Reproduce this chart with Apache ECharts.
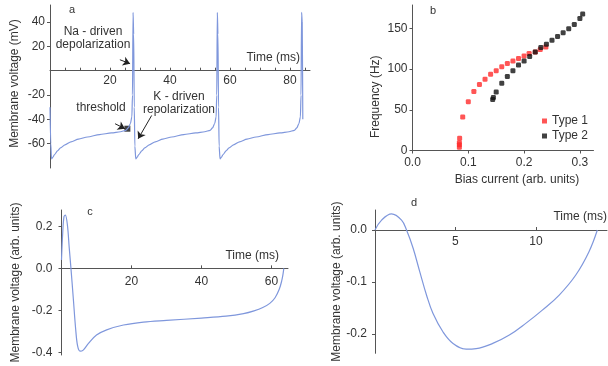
<!DOCTYPE html>
<html>
<head>
<meta charset="utf-8">
<script src="https://cdn.jsdelivr.net/npm/echarts@6/dist/echarts.min.js"></script>
<style>
  html, body { margin: 0; padding: 0; background: #fff; }
  #chart { width: 608px; height: 366px; }
</style>
</head>
<body>
<div id="chart"></div>
<script>
// panel a: spike train, time (ms) vs membrane voltage (mV)
const spikeTrain = [
  [0, -30], [0.25, -60],
  [0.5, -72.5], [1, -71], [1.5, -69], [2.5, -66], [3.5, -63.5], [5, -61], [7, -58.5], [9.5, -56.2],
  [12.5, -54.5], [16.5, -52.5], [20.5, -51.2], [23.5, -50.2], [25.3, -49], [26.1, -47], [26.8, -43.5],
  [27.3, -38], [27.5, -20], [27.7, 48], [27.9, 30], [28.1, -30], [28.3, -62],
  [28.6, -72.5], [29.1, -71], [29.6, -69], [30.6, -66], [31.6, -63.5], [33.1, -61], [35.1, -58.5], [37.6, -56.2],
  [40.6, -54.5], [44.6, -52.5], [48.6, -51.2], [51.6, -50.2], [53.4, -49], [54.2, -47], [54.9, -43.5],
  [55.4, -38], [55.6, -20], [55.8, 48], [56.0, 30], [56.2, -30], [56.4, -62],
  [56.7, -72.5], [57.2, -71], [57.7, -69], [58.7, -66], [59.7, -63.5], [61.2, -61], [63.2, -58.5], [65.7, -56.2],
  [68.7, -54.5], [72.7, -52.5], [76.7, -51.2], [79.7, -50.2], [81.5, -49], [82.3, -47], [83.0, -43.5],
  [83.5, -38], [83.7, -20], [83.9, 48], [84.1, 40], [84.3, -40]
];
const thresholdPoint = [[25.8, -47.7]];
const timeLabelsA = [20, 40, 60, 80];
const timeTicksA = [5, 10, 15, 20, 25, 30, 35, 40, 45, 50, 55, 60, 65, 70, 75, 80, 85];
const voltLabelsA = [-60, -40, -20, 20, 40];

// panel b: f-I curves
const type1 = [
  [0.084, 4], [0.084, 7], [0.084, 9.5], [0.0845, 15], [0.090, 41], [0.100, 60], [0.110, 72.5],
  [0.120, 81], [0.130, 87.6], [0.140, 93.8], [0.150, 98], [0.160, 103], [0.170, 107], [0.180, 110],
  [0.190, 113], [0.200, 116], [0.209, 119], [0.220, 121], [0.229, 124], [0.239, 127]
];
const type2 = [
  [0.1437, 62.6], [0.145, 65], [0.150, 72], [0.160, 82.7], [0.170, 91], [0.180, 98], [0.190, 105],
  [0.200, 110], [0.210, 115.5], [0.220, 121], [0.230, 126.5], [0.240, 130.6], [0.250, 135.5],
  [0.260, 140], [0.270, 144.6], [0.280, 149.5], [0.290, 154.8], [0.300, 162], [0.305, 167.5]
];
const currentLabelsB = [0, 0.1, 0.2, 0.3];
const freqLabelsB = [0, 50, 100, 150];

// panel c: single action potential (arb. units)
const waveC = [
  [0, 0.04], [0.35, 0.17], [0.7, 0.245], [1.1, 0.254], [1.7, 0.205], [2.2, 0.10], [2.7, 0],
  [3.4, -0.15], [4.05, -0.29], [4.6, -0.37], [5.3, -0.395], [6.2, -0.39], [7.7, -0.358], [10, -0.318],
  [12.9, -0.293], [17.7, -0.27], [23.4, -0.256], [30, -0.248], [40, -0.237], [47, -0.228], [52, -0.216],
  [55, -0.203], [57.5, -0.187], [59.5, -0.167], [61, -0.14], [62.2, -0.1], [62.9, -0.06], [63.3, -0.025], [63.5, 0]
];
const timeLabelsC = [20, 40, 60];
const voltLabelsC = [-0.4, -0.2, 0, 0.2];

// panel d: subthreshold response (arb. units)
const waveD = [
  [0, 0], [0.41, 0.019], [1.03, 0.031], [1.65, 0.019], [1.96, 0], [2.37, -0.035], [2.78, -0.08],
  [3.2, -0.125], [3.6, -0.16], [4.23, -0.196], [4.85, -0.218], [5.67, -0.229], [6.29, -0.228],
  [7.32, -0.218], [8.35, -0.202], [9.39, -0.179], [10.4, -0.154], [11.45, -0.125], [12.48, -0.0865],
  [13.3, -0.0417], [13.82, 0]
];
const timeLabelsD = [5, 10];
const voltLabelsD = [-0.2, -0.1, 0];

const FONT = '"Liberation Sans", Arial, sans-serif';
const TEXT = '#333';
const AXIS = '#555';
const TRACE = '#7f97dc';

const oneDecimal = (v) => Number(v).toFixed(1);

function timeName(gap) {
  return {
    name: 'Time (ms)',
    nameLocation: 'end',
    nameGap: gap,
    nameTextStyle: { fontFamily: FONT, fontSize: 12, color: TEXT, align: 'right', verticalAlign: 'bottom', padding: [0, 0, 7, 0] }
  };
}

function axis(gridIndex, min, max, labels, ticks, extra = {}) {
  const { axisLabel = {}, axisTick = {}, ...rest } = extra;
  return {
    type: 'value',
    gridIndex,
    min,
    max,
    axisLine: { onZero: false, lineStyle: { color: AXIS, width: 1 } },
    axisTick: { customValues: ticks || labels, length: 3, lineStyle: { color: AXIS }, ...axisTick },
    axisLabel: { customValues: labels, fontFamily: FONT, fontSize: 12, color: TEXT, ...axisLabel },
    splitLine: { show: false },
    ...rest
  };
}

const chart = echarts.init(document.getElementById('chart'), null, { renderer: 'canvas' });

chart.setOption({
  animation: false,
  grid: [
    { left: 50, top: 5, width: 260, height: 163 },
    { left: 412.5, top: 5, width: 181, height: 145.5 },
    { left: 61.5, top: 210, width: 226.5, height: 145 },
    { left: 375, top: 210, width: 233, height: 143.3 }
  ],
  xAxis: [
    // time axes are lifted up to the zero line with a negative offset
    axis(0, 0, 86.7, timeLabelsA, timeTicksA, {
      ...timeName(-10),
      offset: -97.3,
      axisLabel: { margin: 4 },
      axisTick: { inside: true }
    }),
    axis(1, 0, 0.3244, currentLabelsB, null, {
      name: 'Bias current (arb. units)',
      nameLocation: 'middle',
      nameGap: 23,
      nameTextStyle: { fontFamily: FONT, fontSize: 12, color: TEXT, padding: [0, 0, 0, 28] },
      axisLabel: { formatter: oneDecimal, margin: 6 }
    }),
    axis(2, 0, 64.7, timeLabelsC, null, {
      ...timeName(-9),
      offset: -86.65,
      axisLabel: { margin: 7 },
      axisTick: { inside: true }
    }),
    axis(3, 0, 14.42, timeLabelsD, null, {
      ...timeName(0),
      offset: -123.27,
      axisLabel: { margin: 6 },
      axisTick: { inside: true }
    })
  ],
  yAxis: [
    axis(0, -80, 54, voltLabelsA, null, {
      name: 'Membrane voltage (mV)', nameLocation: 'middle', nameGap: 29,
      nameTextStyle: { fontFamily: FONT, fontSize: 12, color: TEXT, padding: [0, 0, 0, 6] },
      axisLabel: { margin: 5 }
    }),
    axis(1, 0, 178.7, freqLabelsB, null, {
      name: 'Frequency (Hz)', nameLocation: 'middle', nameGap: 31,
      nameTextStyle: { fontFamily: FONT, fontSize: 12, color: TEXT, padding: [0, 38, 0, 0] },
      axisLabel: { margin: 5 }
    }),
    axis(2, -0.413, 0.278, voltLabelsC, null, {
      name: 'Membrane voltage (arb. units)', nameLocation: 'middle', nameGap: 40,
      nameTextStyle: { fontFamily: FONT, fontSize: 12, color: TEXT },
      axisLabel: { formatter: oneDecimal, margin: 9 }
    }),
    axis(3, -0.237, 0.0385, voltLabelsD, null, {
      name: 'Membrane voltage (arb. units)', nameLocation: 'middle', nameGap: 31,
      nameTextStyle: { fontFamily: FONT, fontSize: 12, color: TEXT },
      axisLabel: { formatter: oneDecimal, margin: 8 }
    })
  ],
  legend: {
    data: ['Type 1', 'Type 2'],
    orient: 'vertical',
    left: 537,
    top: 110,
    icon: 'rect',
    itemWidth: 5,
    itemHeight: 5,
    itemGap: 3,
    textStyle: { fontFamily: FONT, fontSize: 12, color: TEXT }
  },
  graphic: [
    { type: 'text', x: 72, y: 10, style: { text: 'a', fontFamily: FONT, fontSize: 11, fill: TEXT, align: 'center', verticalAlign: 'middle' } },
    { type: 'text', x: 433, y: 11, style: { text: 'b', fontFamily: FONT, fontSize: 11, fill: TEXT, align: 'center', verticalAlign: 'middle' } },
    { type: 'text', x: 90, y: 212, style: { text: 'c', fontFamily: FONT, fontSize: 11, fill: TEXT, align: 'center', verticalAlign: 'middle' } },
    { type: 'text', x: 414, y: 203, style: { text: 'd', fontFamily: FONT, fontSize: 11, fill: TEXT, align: 'center', verticalAlign: 'middle' } },
    { type: 'text', x: 93, y: 32, style: { text: 'Na - driven', fontFamily: FONT, fontSize: 12, fill: TEXT, align: 'center', verticalAlign: 'middle' } },
    { type: 'text', x: 93, y: 45, style: { text: 'depolarization', fontFamily: FONT, fontSize: 12, fill: TEXT, align: 'center', verticalAlign: 'middle' } },
    { type: 'text', x: 101, y: 108, style: { text: 'threshold', fontFamily: FONT, fontSize: 12, fill: TEXT, align: 'center', verticalAlign: 'middle' } },
    { type: 'text', x: 179, y: 97, style: { text: 'K - driven', fontFamily: FONT, fontSize: 12, fill: TEXT, align: 'center', verticalAlign: 'middle' } },
    { type: 'text', x: 179, y: 110, style: { text: 'repolarization', fontFamily: FONT, fontSize: 12, fill: TEXT, align: 'center', verticalAlign: 'middle' } }
  ],
  series: [
    {
      type: 'line', xAxisIndex: 0, yAxisIndex: 0, data: spikeTrain,
      showSymbol: false, smooth: 0.25, smoothMonotone: 'x',
      lineStyle: { color: TRACE, width: 1.2 },
      markLine: {
        silent: true,
        symbol: ['none', 'arrow'],
        symbolSize: 7,
        label: { show: false },
        lineStyle: { color: '#222', width: 1, type: 'solid' },
        data: [
          [{ coord: [23.3, 9] }, { coord: [26.7, 5.8] }],
          [{ coord: [21.7, -43.6] }, { coord: [25, -47.7] }],
          [{ coord: [33.9, -36.8] }, { coord: [29.4, -56] }]
        ]
      }
    },
    {
      type: 'scatter', xAxisIndex: 0, yAxisIndex: 0, data: thresholdPoint,
      symbol: 'rect', symbolSize: 6, itemStyle: { color: '#111' }
    },
    {
      name: 'Type 1', type: 'scatter', xAxisIndex: 1, yAxisIndex: 1, data: type1,
      symbol: 'roundRect', symbolSize: 5, itemStyle: { color: '#ff2a2a' }
    },
    {
      name: 'Type 2', type: 'scatter', xAxisIndex: 1, yAxisIndex: 1, data: type2,
      symbol: 'roundRect', symbolSize: 5, itemStyle: { color: '#111' }
    },
    {
      type: 'line', xAxisIndex: 2, yAxisIndex: 2, data: waveC,
      showSymbol: false, smooth: 0.35,
      lineStyle: { color: TRACE, width: 1.2 }
    },
    {
      type: 'line', xAxisIndex: 3, yAxisIndex: 3, data: waveD,
      showSymbol: false, smooth: 0.4,
      lineStyle: { color: TRACE, width: 1.2 }
    }
  ]
});
</script>
</body>
</html>
